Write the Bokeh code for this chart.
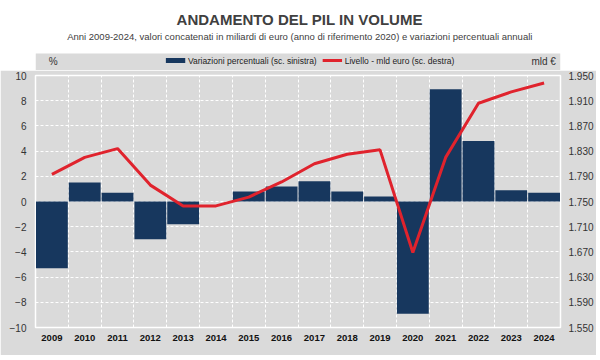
from bokeh.plotting import figure
from bokeh.models import (Range1d, LinearAxis, FixedTicker, ColumnDataSource)
from bokeh.layouts import column
from bokeh.embed import file_html
from bokeh.resources import INLINE
from bokeh.core.properties import value

# ---- data ----
years = [2009, 2010, 2011, 2012, 2013, 2014, 2015, 2016, 2017, 2018, 2019, 2020, 2021, 2022, 2023, 2024]
var_pct = [-5.3, 1.5, 0.7, -3.0, -1.8, 0.0, 0.8, 1.2, 1.6, 0.8, 0.4, -8.9, 8.9, 4.8, 0.9, 0.7]
livello = [1793, 1820, 1834, 1776, 1743, 1743, 1757, 1781, 1810, 1825, 1832, 1669, 1820, 1906, 1924, 1938]
left_ticks = [-10, -8, -6, -4, -2, 0, 2, 4, 6, 8, 10]
right_ticks = [1550, 1590, 1630, 1670, 1710, 1750, 1790, 1830, 1870, 1910, 1950]
right_labels = ["1.550", "1.590", "1.630", "1.670", "1.710", "1.750", "1.790", "1.830", "1.870", "1.910", "1.950"]
legend_labels = ["Variazioni percentuali (sc. sinistra)", "Livello - mld euro (sc. destra)"]
unit_left = "%"
unit_right = "mld €"

title_text = "ANDAMENTO DEL PIL IN VOLUME"
subtitle_text = "Anni 2009-2024, valori concatenati in miliardi di euro (anno di riferimento 2020) e variazioni percentuali annuali"

FONT = "Liberation Sans"
GRAY = "#dadada"
NAVY = "#17375e"
RED = "#e0232d"
W = 596
H_TITLE = 70
H_MAIN = 285

# ---- header figure: title, subtitle, legend strip (pixel coordinates) ----
t = figure(width=W, height=H_TITLE, x_range=(0, W), y_range=(0, H_TITLE), output_backend="svg",
           title=None, toolbar_location=None, min_border=0, x_axis_location=None, y_axis_location=None,
           background_fill_color="white", border_fill_color="white", outline_line_color=None)
t.xgrid.visible = False
t.ygrid.visible = False
t.quad(left=[0], right=[W], bottom=[0], top=[H_TITLE - 53], fill_color=GRAY, line_color=None)
t.text(x=[300], y=[H_TITLE - 19], text=[title_text], text_align="center", text_baseline="middle",
       text_font=value(FONT), text_font_size="15px", text_font_style="bold", text_color="#404040")
t.text(x=[300], y=[H_TITLE - 36], text=[subtitle_text], text_align="center", text_baseline="middle",
       text_font=value(FONT), text_font_size="9.5px", text_color="#404040")
t.text(x=[15, 563], y=[H_TITLE - 61, H_TITLE - 61], text=[unit_left, unit_right],
       text_align="left", text_baseline="middle",
       text_font=value(FONT), text_font_size="10px", text_color="#333333")

# legend swatches and labels
t.quad(left=[148], right=[170], bottom=[H_TITLE - 62.5], top=[H_TITLE - 57.5], fill_color=NAVY, line_color=None)
t.line(x=[326, 348], y=[H_TITLE - 60, H_TITLE - 60], line_color=RED, line_width=3)
t.text(x=[173, 351], y=[H_TITLE - 60, H_TITLE - 60], text=legend_labels,
       text_align="left", text_baseline="middle",
       text_font=value(FONT), text_font_size="8.5px", text_color="#222222")

# ---- main figure ----
src = ColumnDataSource(dict(x=years, pct=var_pct, lvl=livello))
p = figure(width=W, height=H_MAIN, output_backend="svg", toolbar_location=None, title=None,
           x_range=Range1d(years[0] - 0.5, years[-1] + 0.5), y_range=Range1d(-10, 10),
           background_fill_color=GRAY, border_fill_color=GRAY,
           min_border_left=35, min_border_right=36, min_border_top=5, min_border_bottom=28)
p.outline_line_color = "white"
p.outline_line_width = 1.5

p.extra_y_ranges = {"lvl": Range1d(1550, 1950)}

p.vbar(x="x", top="pct", bottom=0, width=0.97, source=src, fill_color=NAVY, line_color=None)
p.line(x="x", y="lvl", source=src, y_range_name="lvl", line_color=RED, line_width=3)

# axes
p.xaxis.ticker = FixedTicker(ticks=years)
p.xaxis.major_label_overrides = {y: str(y) for y in years}
p.xaxis.major_label_text_font_style = "bold"
p.xaxis.major_label_text_color = "#111111"
p.xaxis.major_label_text_font_size = "9.5px"
p.xaxis.major_label_text_font = FONT
p.xaxis.major_label_standoff = 7

p.yaxis.ticker = FixedTicker(ticks=left_ticks)
p.yaxis.major_label_text_font_size = "10px"
p.yaxis.major_label_text_font = FONT
p.yaxis.major_label_text_color = "#333333"
p.yaxis.major_label_standoff = 9

rax = LinearAxis(y_range_name="lvl", ticker=FixedTicker(ticks=right_ticks),
                 major_label_overrides={v: s for v, s in zip(right_ticks, right_labels)},
                 major_label_text_font_size="10px", major_label_text_font=FONT,
                 major_label_text_color="#333333", major_label_standoff=8)
p.add_layout(rax, "right")

for ax in (p.xaxis[0], p.yaxis[0], rax):
    ax.axis_line_color = None
    ax.major_tick_line_color = None
    ax.minor_tick_line_color = None
    ax.major_tick_out = 0
    ax.major_tick_in = 0
    ax.minor_tick_out = 0
    ax.minor_tick_in = 0

# grids
p.ygrid.ticker = FixedTicker(ticks=left_ticks)
p.xgrid.ticker = FixedTicker(ticks=[y + 0.5 for y in years[:-1]])
for g in (p.xgrid[0], p.ygrid[0]):
    g.grid_line_color = "white"
    g.grid_line_dash = "3 2"
    g.grid_line_width = 1

layout = column(t, p, spacing=0)
open("out.html", "w").write(file_html(layout, INLINE))
